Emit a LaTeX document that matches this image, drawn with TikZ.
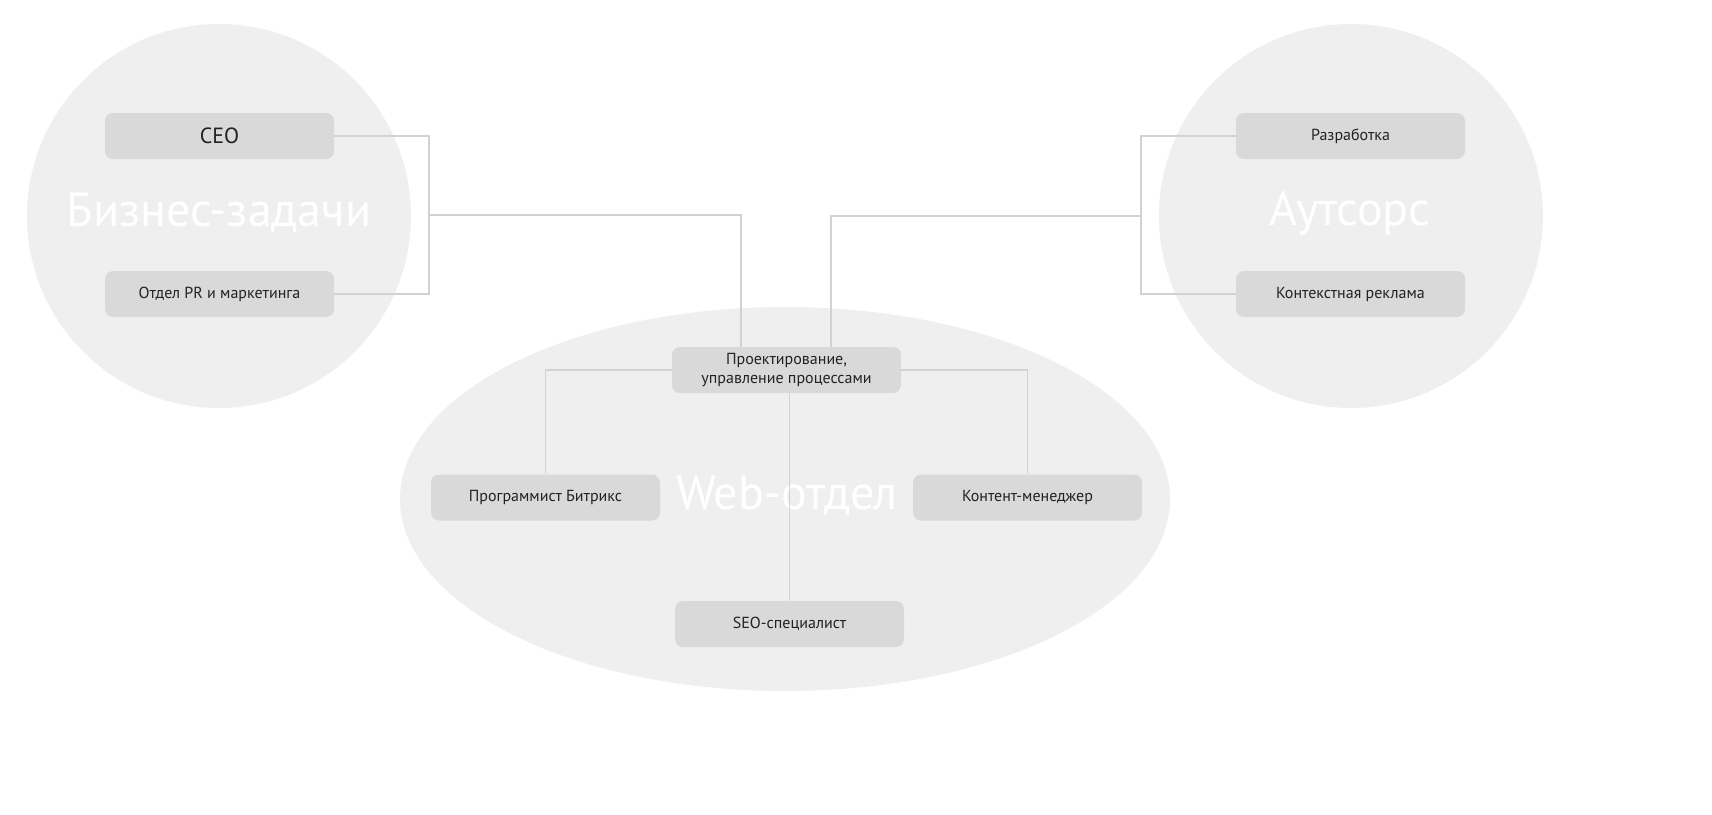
\documentclass[tikz,border=0pt]{standalone}
\usepackage{fontspec}
\setmainfont{PT Sans}
\usepackage{tikz}
\usetikzlibrary{positioning}

\definecolor{bgzone}{HTML}{EFEFEF}
\definecolor{boxfill}{HTML}{D9D9D9}
\definecolor{linkgray}{HTML}{D2D2D2}
\definecolor{textdark}{HTML}{222222}

\begin{document}
\begin{tikzpicture}[x=1pt,y=-1pt,node distance=158pt,on grid,
    zone/.style={fill=bgzone, draw=none},
    bigtitle/.style={text=white, font=\fontsize{48}{58}\selectfont},
    role/.style={fill=boxfill, rounded corners=8pt, minimum width=229pt,
                 minimum height=46pt, inner sep=0pt, text=textdark,
                 align=center, font=\fontsize{16}{19}\selectfont},
    link/.style={draw=linkgray, line width=1.3pt}]
   \useasboundingbox (0,0) rectangle (1712,814);

   % zones
   \fill[zone] (219,216) circle [radius=192];
   \fill[zone] (1351,216) circle [radius=192];
   \fill[zone] (785,499) ellipse [x radius=385, y radius=192];

   \node[bigtitle] (biz_t) at (219,213) {Бизнес-задачи};
   \node[bigtitle] (out_t) at (1350,213) {Аутсорс};
   \node[bigtitle] (web_t) at (787,496) {Web-отдел};

   % boxes
   \node[role, font=\fontsize{22}{25}\selectfont] (ceo) at (219.5,136) {CEO};
   \node[role] (pr)   [below=of ceo]  {Отдел PR и маркетинга};
   \node[role] (razr) at (1350.5,136) {Разработка};
   \node[role] (kont) [below=of razr] {Контекстная реклама};

   \node[role] (proj) at (786.5,370) {Проектирование,\\управление процессами};
   \node[role] (prog) at (545.5,497.5) {Программист Битрикс};
   \node[role] (cm)   at (1027.5,497.5) {Контент-менеджер};
   \node[role] (seo)  at (789.5,624) {SEO-специалист};

   \coordinate (lj) at (429,215);
   \coordinate (rj) at (1141,216);

   % links
   \path[link]
    (ceo.east) -| (lj) |- (pr.east)
    (lj) -| ([xshift=-45.5pt]proj.north)
    (razr.west) -| (rj) |- (kont.west)
    (rj) -| ([xshift=44.5pt]proj.north)
    (proj.west) -| (prog.north)
    (proj.east) -| (cm.north)
    (seo.north) -- (seo.north |- proj.south);
\end{tikzpicture}
\end{document}
